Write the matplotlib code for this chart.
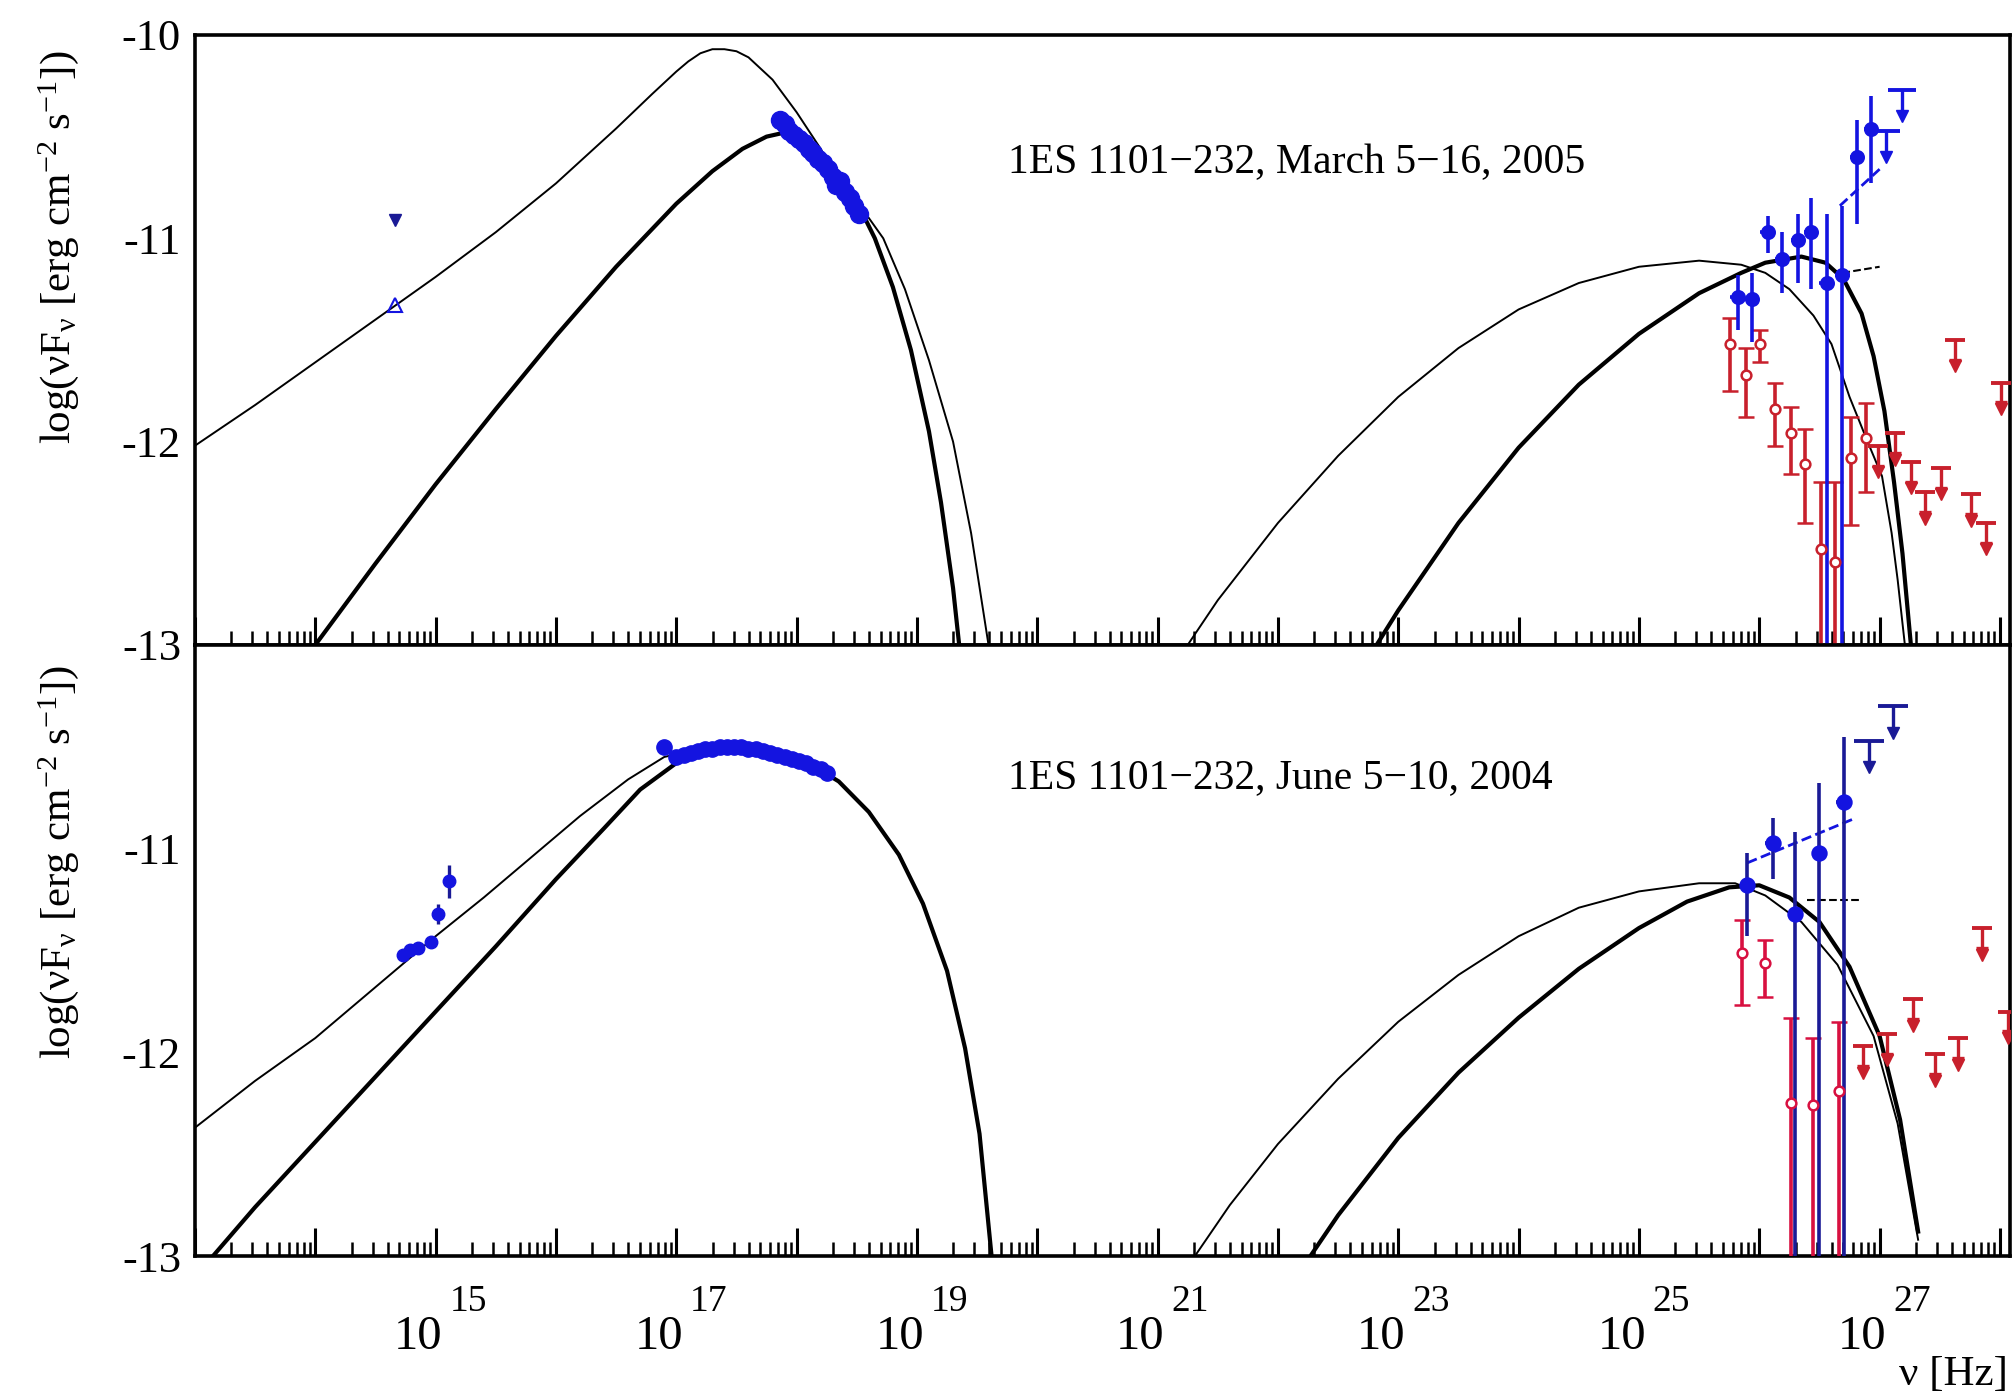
import numpy as np
import matplotlib
matplotlib.use('Agg')
import matplotlib.pyplot as plt
from matplotlib.ticker import LogLocator, FuncFormatter, NullFormatter

plt.rcParams['font.family'] = ['Liberation Serif', 'DejaVu Serif']
plt.rcParams['mathtext.fontset'] = 'custom'
plt.rcParams['mathtext.rm'] = 'Liberation Serif'
plt.rcParams['mathtext.it'] = 'Liberation Serif:italic'

# all values are log10(nu [Hz]) and log10(nuFnu [erg cm^-2 s^-1])

# ---------------- March 2005 (top panel) ----------------
syn_thin_05_x = [13.0, 13.5, 14.0, 14.5, 15.0, 15.5, 16.0, 16.5, 16.8, 17.0, 17.1, 17.2, 17.3, 17.4,
                 17.5, 17.6, 17.8, 18.0, 18.2, 18.4, 18.6, 18.72, 18.9, 19.1, 19.3, 19.45, 19.6]
syn_thin_05_y = [-12.02, -11.82, -11.61, -11.40, -11.19, -10.97, -10.73, -10.46, -10.29, -10.18, -10.13,
                 -10.09, -10.07, -10.07, -10.08, -10.11, -10.22, -10.38, -10.56, -10.77, -10.90, -11.00,
                 -11.25, -11.60, -12.00, -12.45, -13.02]
syn_thick_05_x = [14.0, 14.5, 15.0, 15.5, 16.0, 16.5, 17.0, 17.3, 17.55, 17.75, 17.9, 18.05, 18.2,
                  18.35, 18.5, 18.65, 18.8, 18.95, 19.1, 19.2, 19.3, 19.36]
syn_thick_05_y = [-13.0, -12.60, -12.21, -11.84, -11.48, -11.14, -10.83, -10.67, -10.56, -10.50, -10.48,
                  -10.51, -10.58, -10.68, -10.82, -11.00, -11.24, -11.55, -11.95, -12.30, -12.72, -13.05]
ic_thin_05_x = [21.25, 21.5, 22.0, 22.5, 23.0, 23.5, 24.0, 24.5, 25.0, 25.5, 25.85, 26.05, 26.25, 26.45,
                26.6, 26.75, 26.9, 27.02, 27.1, 27.15, 27.21]
ic_thin_05_y = [-13.0, -12.78, -12.40, -12.07, -11.78, -11.54, -11.35, -11.22, -11.14, -11.11, -11.13,
                -11.17, -11.25, -11.38, -11.52, -11.78, -12.0, -12.17, -12.45, -12.68, -13.0]
ic_thick_05_x = [22.82, 23.0, 23.5, 24.0, 24.5, 25.0, 25.5, 25.85, 26.05, 26.35, 26.55, 26.7, 26.85,
                 26.95, 27.04, 27.12, 27.19, 27.26]
ic_thick_05_y = [-13.0, -12.83, -12.40, -12.03, -11.72, -11.47, -11.27, -11.17, -11.12, -11.09, -11.12,
                 -11.20, -11.37, -11.58, -11.85, -12.20, -12.55, -13.0]

xray05_x = [17.86, 17.90, 17.94, 17.98, 18.02, 18.06, 18.10, 18.14, 18.18, 18.22, 18.26, 18.30, 18.33,
            18.36, 18.40, 18.44, 18.48, 18.52]
xray05_y = [-10.42, -10.44, -10.47, -10.49, -10.51, -10.53, -10.56, -10.58, -10.61, -10.63, -10.66,
            -10.70, -10.74, -10.72, -10.77, -10.80, -10.84, -10.88]
opt05_ul_x, opt05_ul_y = [14.66], [-10.91]
opt05_x, opt05_y = [14.66], [-11.33]

hess05_x = [25.82, 25.94, 26.07, 26.19, 26.32, 26.43, 26.56, 26.69, 26.81, 26.93]
hess05_y = [-11.29, -11.30, -10.97, -11.10, -11.01, -10.97, -11.22, -11.18, -10.60, -10.46]
hess05_lo = [-11.45, -11.51, -11.07, -11.27, -11.22, -11.25, -13.5, -13.5, -10.93, -10.73]
hess05_hi = [-11.18, -11.17, -10.89, -10.97, -10.88, -10.80, -10.88, -10.84, -10.42, -10.30]
hess05_ul_x = [27.05, 27.19]
hess05_ul_y = [-10.47, -10.27]

red05_x = [25.76, 25.89, 26.01, 26.13, 26.26, 26.38, 26.51, 26.63, 26.76, 26.89]
red05_y = [-11.52, -11.67, -11.52, -11.84, -11.96, -12.11, -12.53, -12.59, -12.08, -11.98]
red05_lo = [-11.75, -11.88, -11.61, -12.02, -12.16, -12.40, -13.5, -13.5, -12.41, -12.25]
red05_hi = [-11.39, -11.54, -11.45, -11.71, -11.83, -11.94, -12.20, -12.20, -11.88, -11.81]
red05_ul_x = [26.99, 27.13, 27.26, 27.38, 27.51, 27.63, 27.76, 27.88, 28.01]
red05_ul_y = [-12.02, -11.96, -12.10, -12.25, -12.13, -11.50, -12.26, -12.40, -11.71]

fit05_blue_x, fit05_blue_y = [26.67, 27.00], [-10.84, -10.66]
fit05_black_x, fit05_black_y = [26.69, 27.00], [-11.17, -11.14]

# ---------------- June 2004 (bottom panel) ----------------
syn_thin_04_x = [13.0, 13.5, 14.0, 14.3, 14.6, 15.0, 15.4, 15.8, 16.2, 16.6, 16.9, 17.2, 17.5, 17.8,
                 18.1, 18.35, 18.6, 18.85, 19.05, 19.25, 19.4, 19.52, 19.62]
syn_thin_04_y = [-12.37, -12.14, -11.93, -11.78, -11.63, -11.43, -11.24, -11.04, -10.84, -10.66, -10.55,
                 -10.51, -10.50, -10.52, -10.58, -10.67, -10.82, -11.03, -11.27, -11.60, -11.98, -12.40,
                 -13.0]
syn_thick_04_x = [13.15, 13.5, 14.0, 14.5, 15.0, 15.5, 16.0, 16.4, 16.7, 17.0, 17.2, 17.5, 17.8, 18.1,
                  18.35, 18.6, 18.85, 19.05, 19.25, 19.4, 19.52, 19.62]
syn_thick_04_y = [-13.0, -12.76, -12.44, -12.12, -11.80, -11.48, -11.15, -10.90, -10.71, -10.58, -10.52,
                  -10.50, -10.52, -10.58, -10.67, -10.82, -11.03, -11.27, -11.60, -11.98, -12.40, -13.0]
ic_thin_04_x = [21.31, 21.6, 22.0, 22.5, 23.0, 23.5, 24.0, 24.5, 25.0, 25.5, 25.8, 26.05, 26.35, 26.65,
                26.95, 27.15, 27.32]
ic_thin_04_y = [-13.0, -12.75, -12.45, -12.13, -11.85, -11.62, -11.43, -11.29, -11.21, -11.17, -11.17,
                -11.23, -11.36, -11.57, -11.92, -12.35, -12.92]
ic_thick_04_x = [22.27, 22.5, 23.0, 23.5, 24.0, 24.5, 25.0, 25.4, 25.75, 26.0, 26.25, 26.5, 26.75, 27.0,
                 27.17, 27.32]
ic_thick_04_y = [-13.0, -12.80, -12.42, -12.10, -11.83, -11.59, -11.39, -11.26, -11.19, -11.18, -11.24,
                 -11.36, -11.58, -11.92, -12.33, -12.88]

xray04_x = [16.90, 17.00, 17.06, 17.12, 17.18, 17.24, 17.30, 17.36, 17.42, 17.48, 17.54, 17.60, 17.66,
            17.72, 17.78, 17.84, 17.90, 17.96, 18.02, 18.08, 18.14, 18.20, 18.25]
xray04_y = [-10.50, -10.55, -10.54, -10.53, -10.52, -10.51, -10.51, -10.50, -10.50, -10.50, -10.50,
            -10.51, -10.51, -10.52, -10.53, -10.54, -10.55, -10.56, -10.57, -10.58, -10.60, -10.61, -10.63]
opt04_x = [14.73, 14.79, 14.85, 14.96, 15.02, 15.11]
opt04_y = [-11.52, -11.50, -11.49, -11.46, -11.32, -11.16]
opt04_err = [0.02, 0.02, 0.02, 0.02, 0.05, 0.08]

hess04_x = [25.90, 26.11, 26.30, 26.50, 26.70]
hess04_y = [-11.18, -10.97, -11.32, -11.02, -10.77]
hess04_lo = [-11.43, -11.15, -13.5, -13.5, -13.5]
hess04_hi = [-11.02, -10.85, -10.92, -10.68, -10.45]
hess04_ul_x = [26.91, 27.11]
hess04_ul_y = [-10.47, -10.30]

red04_x = [25.86, 26.05, 26.26, 26.45, 26.66]
red04_y = [-11.51, -11.56, -12.25, -12.26, -12.19]
red04_lo = [-11.77, -11.73, -13.5, -13.5, -13.5]
red04_hi = [-11.35, -11.45, -11.83, -11.93, -11.85]
red04_ul_x = [26.86, 27.06, 27.28, 27.46, 27.65, 27.85, 28.07]
red04_ul_y = [-11.97, -11.91, -11.74, -12.01, -11.93, -11.39, -11.80]

fit04_blue_x, fit04_blue_y = [25.90, 26.80], [-11.07, -10.85]
fit04_black_x, fit04_black_y = [26.40, 26.85], [-11.25, -11.25]

# labelled decades on the frequency axis
label_decades = [15, 17, 19, 21, 23, 25, 27]

BLUE = '#1414e0'
NAVY = '#1a1a96'
RED = '#c8202c'
CRIMSON = '#d81040'


def nu(v):
    return 10.0 ** np.asarray(v, dtype=float)


def xerr_of(lx, d=0.06):
    lx = np.asarray(lx, dtype=float)
    return [nu(lx) - nu(lx - d), nu(lx + d) - nu(lx)]


def upper_limits(ax, xs, ys, color, length=0.13, cap=14, foot=True):
    x = nu(xs)
    y = np.asarray(ys, dtype=float)
    ax.vlines(x, y - length, y, color=color, lw=2.4, zorder=4)
    ax.plot(x, y, ls='none', marker='_', ms=cap, mew=2.8, color=color, zorder=4)
    if foot:
        ax.plot(x, y - length * 0.75, ls='none', marker='_', ms=cap * 0.6, mew=2.4, color=color, zorder=4)
    ax.plot(x, y - length, ls='none', marker='v', ms=8, color=color, zorder=4)


def points(ax, xs, ys, lo, hi, color, ecolor, marker, mfc, ms, capsize, xe=True):
    y = np.asarray(ys, dtype=float)
    ax.errorbar(nu(xs), y, yerr=[y - np.asarray(lo), np.asarray(hi) - y],
                xerr=xerr_of(xs) if xe else None, fmt=marker, color=color, ecolor=ecolor,
                mfc=mfc, mec=color, ms=ms, mew=1.8, elinewidth=2.6, capsize=capsize,
                capthick=2.6, zorder=5)


fig = plt.figure(figsize=(20.14, 13.99), dpi=100)
ax1 = fig.add_axes([0.0968, 0.539, 0.901, 0.436])
ax2 = fig.add_axes([0.0968, 0.1022, 0.901, 0.4368])

for ax in (ax1, ax2):
    ax.set_xscale('log')
    ax.set_xlim(1e13, 10 ** 28.08)
    ax.set_ylim(-13, -10)
    for sp in ax.spines.values():
        sp.set_linewidth(2.6)
    ax.xaxis.set_major_locator(LogLocator(base=10, numticks=40))
    ax.xaxis.set_minor_locator(LogLocator(base=10, subs=np.arange(2, 10), numticks=40))
    ax.xaxis.set_major_formatter(NullFormatter())
    ax.xaxis.set_minor_formatter(NullFormatter())
    ax.tick_params(axis='x', which='major', direction='in', length=20, width=2.2, top=False)
    ax.tick_params(axis='x', which='minor', direction='in', length=10, width=1.8, top=False)
    ax.tick_params(axis='y', which='both', length=0, labelsize=32, pad=10)
    ax.yaxis.set_major_formatter(FuncFormatter(lambda v, p: '%d' % v))

ax1.set_yticks([-13, -12, -11, -10])
ax2.set_yticks([-13, -12, -11])

# ROOT-like "10^n" labels: base and raised exponent drawn separately
for n in label_decades:
    ax2.annotate('10', xy=(10.0 ** n, 0), xycoords=('data', 'axes fraction'),
                 xytext=(5, -58), textcoords='offset points', ha='right', va='center',
                 fontsize=35, annotation_clip=False)
    ax2.annotate('%d' % n, xy=(10.0 ** n, 0), xycoords=('data', 'axes fraction'),
                 xytext=(10, -33), textcoords='offset points', ha='left', va='center',
                 fontsize=27, annotation_clip=False)

# model curves
ax1.plot(nu(syn_thin_05_x), syn_thin_05_y, color='black', lw=1.4)
ax1.plot(nu(syn_thick_05_x), syn_thick_05_y, color='black', lw=3.0)
ax1.plot(nu(ic_thin_05_x), ic_thin_05_y, color='black', lw=1.4)
ax1.plot(nu(ic_thick_05_x), ic_thick_05_y, color='black', lw=3.0)
ax2.plot(nu(syn_thin_04_x), syn_thin_04_y, color='black', lw=1.4)
ax2.plot(nu(syn_thick_04_x), syn_thick_04_y, color='black', lw=3.0)
ax2.plot(nu(ic_thin_04_x), ic_thin_04_y, color='black', lw=1.4)
ax2.plot(nu(ic_thick_04_x), ic_thick_04_y, color='black', lw=3.0)

# top panel data
ax1.plot(nu(xray05_x), xray05_y, 'o', color=BLUE, ms=13, zorder=5)
ax1.plot(nu(opt05_ul_x), opt05_ul_y, 'v', color=NAVY, ms=9, zorder=5)
ax1.plot(nu(opt05_x), opt05_y, '^', mfc='none', mec=BLUE, mew=1.5, ms=10, zorder=5)
points(ax1, red05_x, red05_y, red05_lo, red05_hi, RED, RED, 'o', 'white', 7, 6, xe=False)
upper_limits(ax1, red05_ul_x, red05_ul_y, RED)
points(ax1, hess05_x, hess05_y, hess05_lo, hess05_hi, BLUE, BLUE, 'o', BLUE, 9, 0)
upper_limits(ax1, hess05_ul_x, hess05_ul_y, BLUE, cap=20, foot=False)
ax1.plot(nu(fit05_blue_x), fit05_blue_y, '--', color=BLUE, lw=2)
ax1.plot(nu(fit05_black_x), fit05_black_y, '--', color='black', lw=1.5)

# bottom panel data
ax2.plot(nu(xray04_x), xray04_y, 'o', color=BLUE, ms=11, zorder=5)
opt_y = np.asarray(opt04_y)
ax2.errorbar(nu(opt04_x), opt_y, yerr=opt04_err, fmt='o', color=BLUE, ecolor=NAVY, ms=9,
             elinewidth=2.4, capsize=0, zorder=5)
points(ax2, red04_x, red04_y, red04_lo, red04_hi, CRIMSON, CRIMSON, 'o', 'white', 7, 6, xe=False)
upper_limits(ax2, red04_ul_x, red04_ul_y, RED)
points(ax2, hess04_x, hess04_y, hess04_lo, hess04_hi, BLUE, NAVY, 'o', BLUE, 10, 0)
upper_limits(ax2, hess04_ul_x, hess04_ul_y, NAVY, cap=22, foot=False)
ax2.plot(nu(fit04_blue_x), fit04_blue_y, '--', color=BLUE, lw=2)
ax2.plot(nu(fit04_black_x), fit04_black_y, '--', color='black', lw=1.5)

ax1.text(0.448, 0.79, '1ES 1101\u2212232, March 5\u221216, 2005', transform=ax1.transAxes,
         fontsize=30, va='center', ha='left')
ax2.text(0.448, 0.783, '1ES 1101\u2212232, June 5\u221210, 2004', transform=ax2.transAxes,
         fontsize=30, va='center', ha='left')

ylab = r'log($\mathrm{\nu F_{\nu}}$ [erg cm$^{\mathrm{-2}}$ s$^{\mathrm{-1}}$])'
fig.text(0.029, 0.823, ylab, rotation=90, fontsize=31, ha='center', va='center')
fig.text(0.029, 0.384, ylab, rotation=90, fontsize=31, ha='center', va='center')
fig.text(0.997, 0.017, '\u03bd [Hz]', fontsize=31, ha='right', va='center')

fig.savefig('out.png', dpi=100)
